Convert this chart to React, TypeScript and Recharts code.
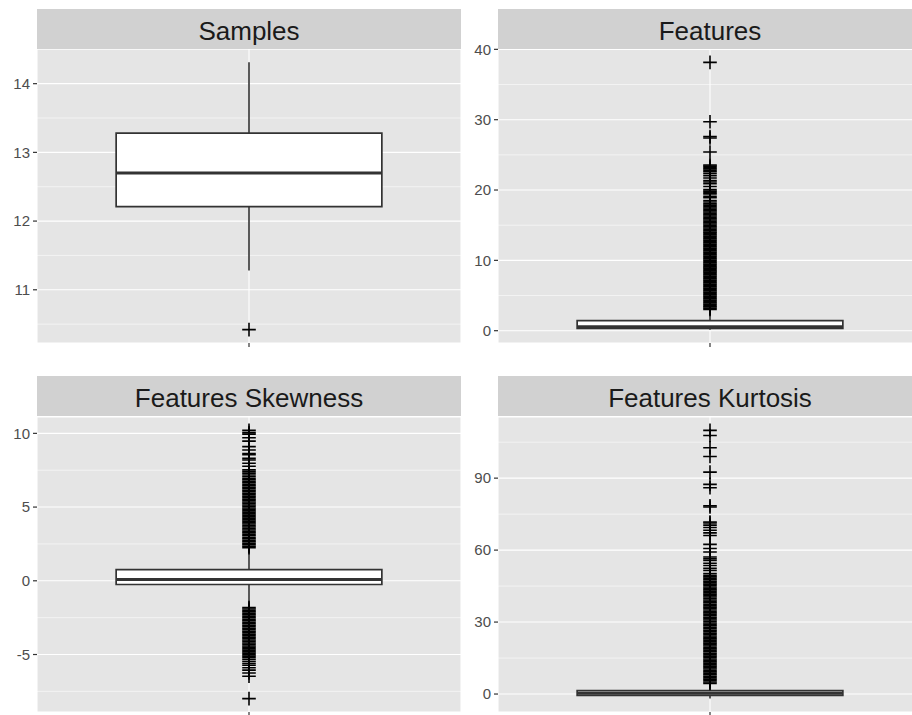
import React from 'react';
import {
  ComposedChart,
  XAxis,
  YAxis,
  CartesianGrid,
  ReferenceArea,
  ReferenceLine,
  Scatter,
} from 'recharts';

// ---------- data ----------
// box stats: [lower whisker, Q1, median, Q3, upper whisker]
const samplesBox = [11.28, 12.21, 12.7, 13.28, 14.31];
const samplesOutliers = [10.42];
const samplesMajor = [11, 12, 13, 14];
const samplesMinor = [10.5, 11.5, 12.5, 13.5, 14.5];

const featuresBox = [0.15, 0.33, 0.55, 1.42, 2.9];
const featuresOutliers = [
  3.02, 3.2, 3.38, 3.57, 3.76, 3.95, 4.14, 4.33, 4.52, 4.71, 4.9, 5.09, 5.28, 5.47,
  5.66, 5.85, 6.04, 6.23, 6.42, 6.61, 6.8, 6.99, 7.18, 7.37, 7.56, 7.75, 7.94, 8.13,
  8.32, 8.51, 8.7, 8.89, 9.08, 9.27, 9.46, 9.65, 9.84, 10.03, 10.22, 10.41, 10.6,
  10.79, 10.98, 11.17, 11.36, 11.55, 11.74, 11.93, 12.12, 12.31, 12.5, 12.69, 12.88,
  13.07, 13.26, 13.45, 13.64, 13.83, 14.02, 14.21, 14.4, 14.59, 14.78, 14.97, 15.16,
  15.35, 15.54, 15.73, 15.92, 16.11, 16.3, 16.49, 16.68, 16.87, 17.06, 17.25, 17.44,
  17.62, 17.85, 18.05, 18.3, 18.5, 18.9, 19.1, 19.45, 19.65, 19.85, 20.05, 20.5, 20.9,
  21.15, 21.35, 21.7, 22.05, 22.35, 22.6, 22.8, 23.0, 23.2, 23.4, 23.55,
  25.4, 27.4, 27.6, 29.7, 38.15,
];
const featuresMajor = [0, 10, 20, 30, 40];
const featuresMinor = [5, 15, 25, 35];

const skewBox = [-1.75, -0.25, 0.08, 0.76, 2.15];
const skewOutliers = [
  2.25, 2.34, 2.45, 2.54, 2.65, 2.74, 2.85, 2.94, 3.05, 3.14, 3.25, 3.34, 3.45, 3.54,
  3.65, 3.74, 3.85, 3.94, 4.05, 4.14, 4.25, 4.34, 4.45, 4.54, 4.65, 4.74, 4.85, 4.94,
  5.05, 5.14, 5.25, 5.34, 5.45, 5.54, 5.65, 5.74, 5.85, 5.94, 6.05, 6.14, 6.25, 6.34,
  6.45, 6.54, 6.65, 6.74, 6.85, 6.94, 7.06, 7.18, 7.3, 7.41, 7.52,
  7.77, 7.97, 8.19, 8.3, 8.55, 8.63, 8.87, 9.1, 9.47, 9.7, 9.95, 10.05, 10.2,
  -1.82, -1.91, -2.02, -2.11, -2.22, -2.31, -2.42, -2.51, -2.62, -2.71, -2.82, -2.91,
  -3.02, -3.11, -3.22, -3.31, -3.42, -3.51, -3.62, -3.71, -3.82, -3.91, -4.02, -4.11,
  -4.22, -4.31, -4.42, -4.51, -4.62, -4.71, -4.82, -4.91, -5.02, -5.11, -5.22, -5.34,
  -5.47, -5.61, -5.73, -5.9, -6.06, -6.25, -6.47, -7.99,
];
const skewMajor = [-5, 0, 5, 10];
const skewMinor = [-7.5, -2.5, 2.5, 7.5];

const kurtBox = [-1.9, -0.6, 0.3, 1.4, 4.2];
const kurtOutliers = [
  4.45, 5.02, 5.63, 6.21, 6.84, 7.42, 8.03, 8.61, 9.24, 9.82, 10.43, 11.01, 11.64,
  12.22, 12.83, 13.41, 14.04, 14.62, 15.23, 15.81, 16.44, 17.02, 17.63, 18.21, 18.84,
  19.42, 20.03, 20.61, 21.24, 21.82, 22.43, 23.01, 23.64, 24.22, 24.83, 25.41, 26.04,
  26.62, 27.23, 27.81, 28.44, 29.02, 29.63, 30.21, 30.84, 31.42, 32.03, 32.61, 33.24,
  33.82, 34.43, 35.01, 35.64, 36.22, 36.83, 37.41, 38.04, 38.62, 39.23, 39.81, 40.44,
  41.02, 41.63, 42.21, 42.84, 43.42, 44.03, 44.61, 45.24, 45.82, 46.43, 47.01, 47.64,
  48.22, 48.83, 49.41, 50.2, 51.5, 52.4, 53.6, 54.5, 55.7, 56.4,
  57.1, 59.2, 60.7, 62.4, 66.1, 67.2, 68.3, 69.4, 70.4, 71.3, 71.7, 78.0, 78.5,
  86.0, 87.4, 92.5, 99.0, 102.7, 107.8, 109.9,
];
const kurtMajor = [0, 30, 60, 90];
const kurtMinor = [15, 45, 75, 105];

// ---------- style ----------
const FONT = '"Liberation Sans", Arial, Helvetica, sans-serif';
const PANEL_BG = '#E5E5E5';
const STRIP_BG = '#D1D1D1';
const DARK = '#333333';
const HALF = 0.376; // half box width in x units
const PLOT_W = 424;
const LEFT_SPACE = 37;
const TOP_SPACE = 49;
const X_AXIS_H = 16;

const Plus = (props: any) => {
  const { cx, cy } = props;
  if (cx == null || cy == null) return null;
  const s = 6.8;
  return (
    <path
      d={`M${cx - s},${cy}H${cx + s}M${cx},${cy - s}V${cy + s}`}
      stroke="#000"
      strokeWidth={1.6}
      fill="none"
    />
  );
};

type PanelProps = {
  title: string;
  left: number;
  top: number;
  plotH: number;
  box: number[];
  outliers: number[];
  majors: number[];
  minors: number[];
};

function Panel({ title, left, top, plotH, box, outliers, majors, minors }: PanelProps) {
  const all = [...box, ...outliers];
  const lo = Math.min(...all);
  const hi = Math.max(...all);
  const pad = (hi - lo) * 0.05;
  const domain: [number, number] = [lo - pad, hi + pad];
  const [wLo, q1, med, q3, wHi] = box;
  const pts = outliers.map((v) => ({ x: 0, y: v }));
  const W = LEFT_SPACE + PLOT_W + 12;
  const H = TOP_SPACE + plotH + X_AXIS_H;
  return (
    <div style={{ position: 'absolute', left: left - LEFT_SPACE, top: top - TOP_SPACE, width: W, height: H }}>
      <ComposedChart width={W} height={H} margin={{ top: TOP_SPACE, right: 12, bottom: 0, left: 0 }}>
        <CartesianGrid fill={PANEL_BG} fillOpacity={1} stroke="#FFFFFF" strokeWidth={1.1} />
        <CartesianGrid horizontalValues={minors} vertical={false} stroke="#FFFFFF" strokeWidth={0.55} />
        <XAxis
          type="number"
          dataKey="x"
          domain={[-0.6, 0.6]}
          ticks={[0]}
          tickFormatter={() => ''}
          tickSize={4}
          tickLine={{ stroke: DARK, strokeWidth: 1.2 }}
          axisLine={false}
          height={X_AXIS_H}
          allowDataOverflow
        />
        <YAxis
          type="number"
          dataKey="y"
          domain={domain}
          ticks={majors}
          interval={0}
          width={LEFT_SPACE}
          tickSize={4}
          tickMargin={3}
          axisLine={false}
          tickLine={{ stroke: DARK, strokeWidth: 1.2 }}
          tick={{ fill: '#4D4D4D', fontSize: 15, fontFamily: FONT }}
          tickFormatter={(v: number) => String(v)}
          allowDataOverflow
        />
        <ReferenceLine segment={[{ x: 0, y: q3 }, { x: 0, y: wHi }]} stroke={DARK} strokeWidth={1.6} />
        <ReferenceLine segment={[{ x: 0, y: wLo }, { x: 0, y: q1 }]} stroke={DARK} strokeWidth={1.6} />
        <ReferenceArea x1={-HALF} x2={HALF} y1={q1} y2={q3} fill="#FFFFFF" fillOpacity={1} stroke={DARK} strokeWidth={1.7} />
        <ReferenceLine segment={[{ x: -HALF, y: med }, { x: HALF, y: med }]} stroke={DARK} strokeWidth={3} />
        <Scatter data={pts} shape={Plus} isAnimationActive={false} />
      </ComposedChart>
      <div
        style={{
          position: 'absolute',
          left: LEFT_SPACE,
          top: TOP_SPACE - 40.7,
          width: PLOT_W,
          height: 40,
          background: STRIP_BG,
          color: '#1A1A1A',
          fontFamily: FONT,
          fontSize: 26,
          lineHeight: '44px',
          textAlign: 'center',
          overflow: 'hidden',
          whiteSpace: 'nowrap',
        }}
      >
        {title}
      </div>
    </div>
  );
}

export default function App() {
  return (
    <div
      style={{
        position: 'fixed',
        left: 0,
        top: 0,
        width: 912,
        height: 715,
        overflow: 'hidden',
        background: '#FFFFFF',
      }}
    >
      <Panel title="Samples" left={37} top={49.3} plotH={294} box={samplesBox} outliers={samplesOutliers} majors={samplesMajor} minors={samplesMinor} />
      <Panel title="Features" left={498} top={49.3} plotH={294} box={featuresBox} outliers={featuresOutliers} majors={featuresMajor} minors={featuresMinor} />
      <Panel title="Features Skewness" left={37} top={416.7} plotH={295} box={skewBox} outliers={skewOutliers} majors={skewMajor} minors={skewMinor} />
      <Panel title="Features Kurtosis" left={498} top={416.7} plotH={295} box={kurtBox} outliers={kurtOutliers} majors={kurtMajor} minors={kurtMinor} />
    </div>
  );
}
